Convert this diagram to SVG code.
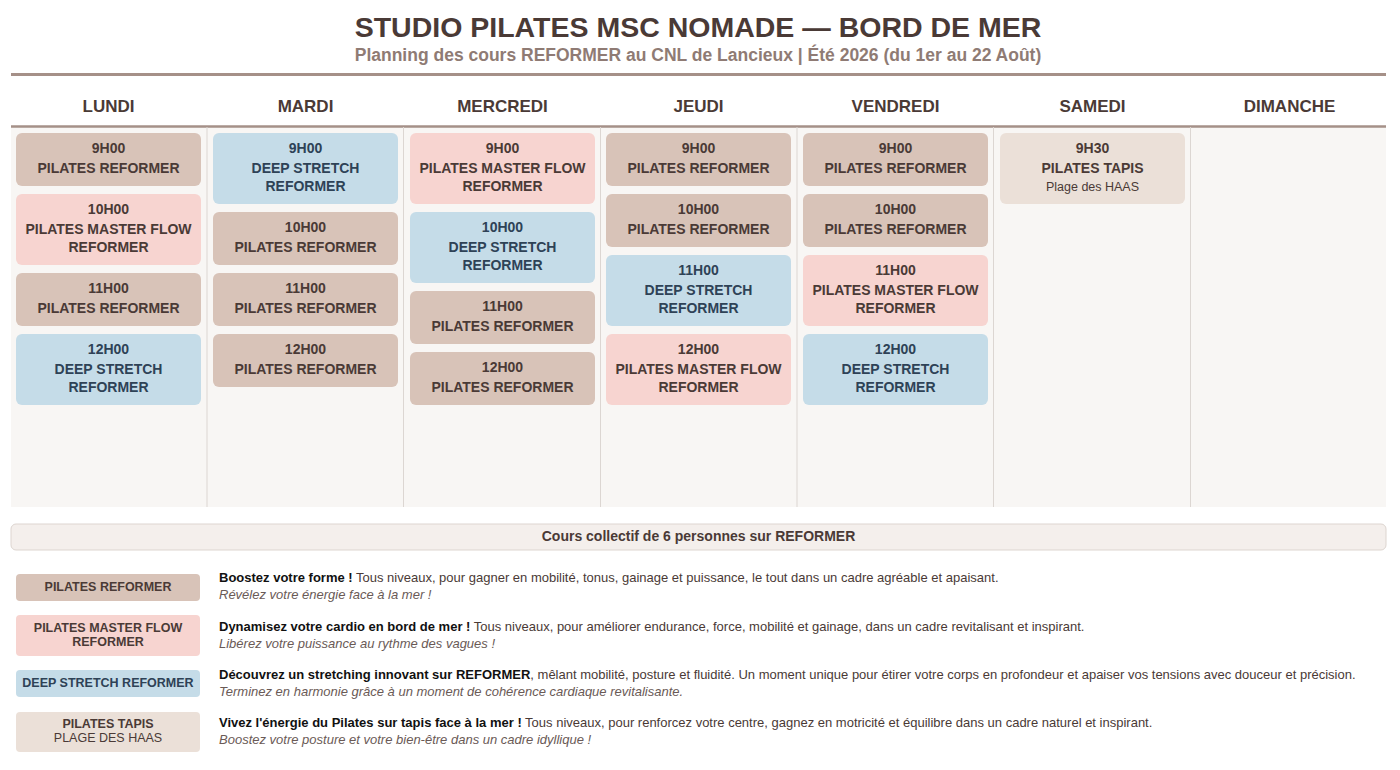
<svg xmlns="http://www.w3.org/2000/svg" width="1400" height="770" viewBox="0 0 1400 770">
<style>
text{font-family:"Liberation Sans",Arial,sans-serif;fill:#4a3a36}
.t{font-size:28.5px;font-weight:bold;text-anchor:middle}
.st{font-size:17.5px;font-weight:bold;text-anchor:middle;fill:#8f7b74}
.d{font-size:17px;font-weight:bold;text-anchor:middle}
.c{font-size:14px;font-weight:bold;text-anchor:middle}
.cb{fill:#2e4256}
.p{fill:#d8c3b8}.m{fill:#f7d4d0}.b{fill:#c5dce8}.k{fill:#ebe0d8}
.sm{font-size:12.5px;text-anchor:middle}
.lg{font-size:12.5px;font-weight:bold;text-anchor:middle}
.tx{font-size:13px}
.it{font-size:13px;font-style:italic;fill:#6a5a56}
.sep{stroke:#dcd6d2;stroke-width:1}
</style>
<rect width="1400" height="770" fill="#fff"/>
<text class="t" x="698" y="37">STUDIO PILATES MSC NOMADE — BORD DE MER</text>
<text class="st" x="698" y="61">Planning des cours REFORMER au CNL de Lancieux | Été 2026 (du 1er au 22 Août)</text>
<line x1="11" y1="74.5" x2="1386" y2="74.5" stroke="#a59088" stroke-width="3"/>
<rect x="11" y="127" width="1375" height="380" fill="#f8f6f4"/>
<line x1="11" y1="126.5" x2="1386" y2="126.5" stroke="#a59088" stroke-width="2.5"/>
<g id="grid">
<line class="sep" x1="207" y1="127" x2="207" y2="507"/><line class="sep" x1="403.5" y1="127" x2="403.5" y2="507"/><line class="sep" x1="600.5" y1="127" x2="600.5" y2="507"/><line class="sep" x1="797" y1="127" x2="797" y2="507"/><line class="sep" x1="993.5" y1="127" x2="993.5" y2="507"/><line class="sep" x1="1190.5" y1="127" x2="1190.5" y2="507"/>
</g>
<g id="headers">
<text class="d" x="108.5" y="112">LUNDI</text><text class="d" x="305.5" y="112">MARDI</text><text class="d" x="502.5" y="112">MERCREDI</text><text class="d" x="698.5" y="112">JEUDI</text><text class="d" x="895.5" y="112">VENDREDI</text><text class="d" x="1092.5" y="112">SAMEDI</text><text class="d" x="1289.5" y="112">DIMANCHE</text>
</g>
<g id="lun1"><rect class="p" x="16" y="133" width="185" height="53" rx="6"/><text class="c" x="108.5" y="153">9H00</text><text class="c" x="108.5" y="173">PILATES REFORMER</text></g>
<g id="lun2"><rect class="m" x="16" y="194" width="185" height="71" rx="6"/><text class="c" x="108.5" y="214">10H00</text><text class="c" x="108.5" y="234">PILATES MASTER FLOW</text><text class="c" x="108.5" y="252">REFORMER</text></g>
<g id="lun3"><rect class="p" x="16" y="273" width="185" height="53" rx="6"/><text class="c" x="108.5" y="293">11H00</text><text class="c" x="108.5" y="313">PILATES REFORMER</text></g>
<g id="lun4"><rect class="b" x="16" y="334" width="185" height="71" rx="6"/><text class="c cb" x="108.5" y="354">12H00</text><text class="c cb" x="108.5" y="374">DEEP STRETCH</text><text class="c cb" x="108.5" y="392">REFORMER</text></g>
<g id="mar1"><rect class="b" x="213" y="133" width="185" height="71" rx="6"/><text class="c cb" x="305.5" y="153">9H00</text><text class="c cb" x="305.5" y="173">DEEP STRETCH</text><text class="c cb" x="305.5" y="191">REFORMER</text></g>
<g id="mar2"><rect class="p" x="213" y="212" width="185" height="53" rx="6"/><text class="c" x="305.5" y="232">10H00</text><text class="c" x="305.5" y="252">PILATES REFORMER</text></g>
<g id="mar3"><rect class="p" x="213" y="273" width="185" height="53" rx="6"/><text class="c" x="305.5" y="293">11H00</text><text class="c" x="305.5" y="313">PILATES REFORMER</text></g>
<g id="mar4"><rect class="p" x="213" y="334" width="185" height="53" rx="6"/><text class="c" x="305.5" y="354">12H00</text><text class="c" x="305.5" y="374">PILATES REFORMER</text></g>
<g id="mer1"><rect class="m" x="410" y="133" width="185" height="71" rx="6"/><text class="c" x="502.5" y="153">9H00</text><text class="c" x="502.5" y="173">PILATES MASTER FLOW</text><text class="c" x="502.5" y="191">REFORMER</text></g>
<g id="mer2"><rect class="b" x="410" y="212" width="185" height="71" rx="6"/><text class="c cb" x="502.5" y="232">10H00</text><text class="c cb" x="502.5" y="252">DEEP STRETCH</text><text class="c cb" x="502.5" y="270">REFORMER</text></g>
<g id="mer3"><rect class="p" x="410" y="291" width="185" height="53" rx="6"/><text class="c" x="502.5" y="311">11H00</text><text class="c" x="502.5" y="331">PILATES REFORMER</text></g>
<g id="mer4"><rect class="p" x="410" y="352" width="185" height="53" rx="6"/><text class="c" x="502.5" y="372">12H00</text><text class="c" x="502.5" y="392">PILATES REFORMER</text></g>
<g id="jeu1"><rect class="p" x="606" y="133" width="185" height="53" rx="6"/><text class="c" x="698.5" y="153">9H00</text><text class="c" x="698.5" y="173">PILATES REFORMER</text></g>
<g id="jeu2"><rect class="p" x="606" y="194" width="185" height="53" rx="6"/><text class="c" x="698.5" y="214">10H00</text><text class="c" x="698.5" y="234">PILATES REFORMER</text></g>
<g id="jeu3"><rect class="b" x="606" y="255" width="185" height="71" rx="6"/><text class="c cb" x="698.5" y="275">11H00</text><text class="c cb" x="698.5" y="295">DEEP STRETCH</text><text class="c cb" x="698.5" y="313">REFORMER</text></g>
<g id="jeu4"><rect class="m" x="606" y="334" width="185" height="71" rx="6"/><text class="c" x="698.5" y="354">12H00</text><text class="c" x="698.5" y="374">PILATES MASTER FLOW</text><text class="c" x="698.5" y="392">REFORMER</text></g>
<g id="ven1"><rect class="p" x="803" y="133" width="185" height="53" rx="6"/><text class="c" x="895.5" y="153">9H00</text><text class="c" x="895.5" y="173">PILATES REFORMER</text></g>
<g id="ven2"><rect class="p" x="803" y="194" width="185" height="53" rx="6"/><text class="c" x="895.5" y="214">10H00</text><text class="c" x="895.5" y="234">PILATES REFORMER</text></g>
<g id="ven3"><rect class="m" x="803" y="255" width="185" height="71" rx="6"/><text class="c" x="895.5" y="275">11H00</text><text class="c" x="895.5" y="295">PILATES MASTER FLOW</text><text class="c" x="895.5" y="313">REFORMER</text></g>
<g id="ven4"><rect class="b" x="803" y="334" width="185" height="71" rx="6"/><text class="c cb" x="895.5" y="354">12H00</text><text class="c cb" x="895.5" y="374">DEEP STRETCH</text><text class="c cb" x="895.5" y="392">REFORMER</text></g>
<g id="sam1"><rect class="k" x="1000" y="133" width="185" height="71" rx="6"/><text class="c" x="1092.5" y="153">9H30</text><text class="c" x="1092.5" y="173">PILATES TAPIS</text><text class="sm" x="1092.5" y="191">Plage des HAAS</text></g>
<g id="banner"><rect x="11" y="524" width="1375" height="26" rx="5" fill="#f4efec" stroke="#ddd5d0"/><text class="c" x="698.5" y="541">Cours collectif de 6 personnes sur REFORMER</text></g>
<g id="leg1"><rect class="p" x="16" y="574" width="184" height="27" rx="4"/><text class="lg" x="108" y="591">PILATES REFORMER</text>
<text class="tx" x="219" y="582"><tspan font-weight="bold" fill="#111">Boostez votre forme !</tspan> Tous niveaux, pour gagner en mobilité, tonus, gainage et puissance, le tout dans un cadre agréable et apaisant.</text><text class="it" x="219" y="599">Révélez votre énergie face à la mer !</text></g>
<g id="leg2"><rect class="m" x="16" y="615" width="184" height="41" rx="4"/><text class="lg" x="108" y="632">PILATES MASTER FLOW</text><text class="lg" x="108" y="646">REFORMER</text>
<text class="tx" x="219" y="631"><tspan font-weight="bold" fill="#111">Dynamisez votre cardio en bord de mer !</tspan> Tous niveaux, pour améliorer endurance, force, mobilité et gainage, dans un cadre revitalisant et inspirant.</text><text class="it" x="219" y="648">Libérez votre puissance au rythme des vagues !</text></g>
<g id="leg3"><rect class="b" x="16" y="670" width="184" height="27" rx="4"/><text class="lg cb" x="108" y="687">DEEP STRETCH REFORMER</text>
<text class="tx" x="219" y="679"><tspan font-weight="bold" fill="#111">Découvrez un stretching innovant sur REFORMER</tspan>, mêlant mobilité, posture et fluidité. Un moment unique pour étirer votre corps en profondeur et apaiser vos tensions avec douceur et précision.</text><text class="it" x="219" y="696">Terminez en harmonie grâce à un moment de cohérence cardiaque revitalisante.</text></g>
<g id="leg4"><rect class="k" x="16" y="712" width="184" height="40" rx="4"/><text class="lg" x="108" y="728">PILATES TAPIS</text><text class="sm" x="108" y="742" font-size="11.5">PLAGE DES HAAS</text>
<text class="tx" x="219" y="727"><tspan font-weight="bold" fill="#111">Vivez l'énergie du Pilates sur tapis face à la mer !</tspan> Tous niveaux, pour renforcez votre centre, gagnez en motricité et équilibre dans un cadre naturel et inspirant.</text><text class="it" x="219" y="744">Boostez votre posture et votre bien-être dans un cadre idyllique !</text></g>
</svg>
